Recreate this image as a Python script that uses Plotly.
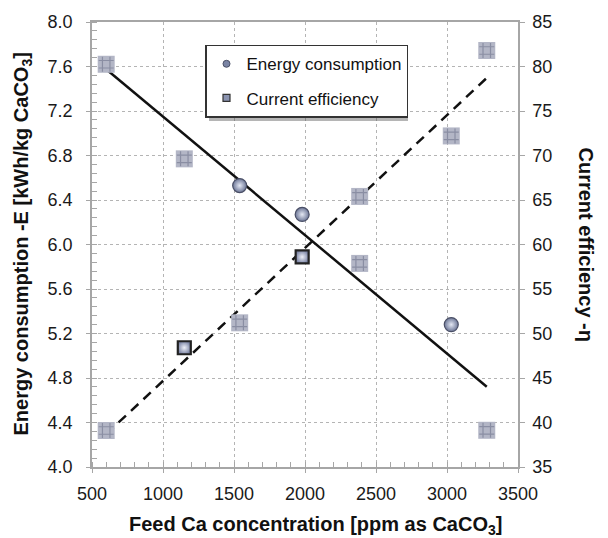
import numpy as np
import plotly.graph_objects as go

# ---------------- data ----------------
feed_ppm = [600, 1150, 1540, 1980, 2385, 3030, 3280]
energy_kwh = [7.62, 6.77, 6.53, 6.27, 5.83, 5.28, 4.33]
current_eff = [39.1, 48.4, 51.2, 58.6, 65.4, 72.2, 81.8]

# which points appear as plain markers vs. textured squares in the original
energy_plain_idx = [2, 3, 5]
energy_textured_idx = [0, 1, 4, 6]
eff_plain_idx = [1, 3]
eff_textured_idx = [0, 2, 4, 5, 6]

x_ticks = [500, 1000, 1500, 2000, 2500, 3000, 3500]
left_ticks = [4.0, 4.4, 4.8, 5.2, 5.6, 6.0, 6.4, 6.8, 7.2, 7.6, 8.0]
right_ticks = [35, 40, 45, 50, 55, 60, 65, 70, 75, 80, 85]

FONT = "Liberation Sans, Arial, Helvetica, sans-serif"
W, H = 608, 538
ML, MR, MT, MB = 92, 90, 17, 71
PW, PH = W - ML - MR, H - MT - MB


def pick(seq, idx):
    return [seq[i] for i in idx]


fig = go.Figure()

# trend lines (least squares fits of the data)
xs = np.array(feed_ppm, dtype=float)
pe = np.polyfit(xs, np.array(energy_kwh), 1)
pc = np.polyfit(xs, np.array(current_eff), 1)
xl = [xs.min(), xs.max()]
fig.add_trace(go.Scatter(x=xl, y=list(np.polyval(pe, xl)), mode="lines",
                         line=dict(color="#111111", width=2.5),
                         showlegend=False, hoverinfo="skip"))
fig.add_trace(go.Scatter(x=xl, y=list(np.polyval(pc, xl)), mode="lines",
                         line=dict(color="#111111", width=2.5, dash="10px,7px"),
                         yaxis="y2", showlegend=False, hoverinfo="skip"))

# textured squares
tex_marker = dict(symbol="square", size=17, color="#b3b6c6", line=dict(width=0))
hash_marker = dict(symbol="hash", size=15, color="#8a8ea3",
                   line=dict(color="#8a8ea3", width=1.2))
for xv, yv, ax in [(pick(feed_ppm, energy_textured_idx), pick(energy_kwh, energy_textured_idx), "y"),
                   (pick(feed_ppm, eff_textured_idx), pick(current_eff, eff_textured_idx), "y2")]:
    fig.add_trace(go.Scatter(x=xv, y=yv, mode="markers", marker=tex_marker,
                             yaxis=ax, showlegend=False))
    fig.add_trace(go.Scatter(x=xv, y=yv, mode="markers", marker=hash_marker,
                             yaxis=ax, showlegend=False, hoverinfo="skip"))

# plain markers
fig.add_trace(go.Scatter(
    x=pick(feed_ppm, energy_plain_idx), y=pick(energy_kwh, energy_plain_idx),
    mode="markers", showlegend=False, name="Energy consumption",
    marker=dict(symbol="circle", size=14, color="#6c7696",
                gradient=dict(type="radial", color="#e4e8f4"),
                line=dict(color="#4a4f66", width=1.2))))
fig.add_trace(go.Scatter(
    x=pick(feed_ppm, eff_plain_idx), y=pick(current_eff, eff_plain_idx),
    mode="markers", showlegend=False, name="Current efficiency", yaxis="y2",
    marker=dict(symbol="square", size=13, color="#7d86a6",
                gradient=dict(type="radial", color="#eef0f8"),
                line=dict(color="#222222", width=2.2))))

# legend entries
fig.add_trace(go.Scatter(
    x=[None], y=[None], mode="markers", name="Energy consumption",
    legendgroup="a",
    marker=dict(symbol="circle", size=7, color="#7a84a4",
                line=dict(color="#4a4f66", width=1))))
fig.add_trace(go.Scatter(
    x=[None], y=[None], mode="markers", name="Current efficiency",
    legendgroup="b",
    marker=dict(symbol="square", size=7, color="#8a93b0",
                line=dict(color="#333333", width=1.2))))

grid = dict(showgrid=True, gridcolor="#b4b4b4", griddash="dot", gridwidth=1)
axline = dict(showline=True, linecolor="#a6a6a6", linewidth=1.5)
tickf = dict(family=FONT, size=18, color="#1a1a1a")

fig.update_layout(
    width=W, height=H,
    margin=dict(l=ML, r=MR, t=MT, b=MB, pad=0),
    paper_bgcolor="white", plot_bgcolor="white",
    font=dict(family=FONT, color="#1a1a1a"),
    xaxis=dict(range=[500, 3500], tickvals=x_ticks,
               ticks="outside", ticklen=4, tickcolor="#a6a6a6",
               minor=dict(ticks="inside", dtick=100, ticklen=5, tickcolor="#a6a6a6"),
               tickfont=tickf, ticklabelstandoff=6, mirror=True,
               zeroline=False, **grid, **axline),
    yaxis=dict(range=[4.0, 8.0], tickvals=left_ticks, tickformat=".1f",
               ticks="outside", ticklen=4, tickcolor="#a6a6a6",
               minor=dict(ticks="inside", dtick=0.08, ticklen=5, tickcolor="#a6a6a6"),
               tickfont=tickf, ticklabelstandoff=10,
               zeroline=False, **grid, **axline),
    yaxis2=dict(range=[35, 85], tickvals=right_ticks, ticksuffix="%",
                overlaying="y", side="right",
                ticks="outside", ticklen=5, tickcolor="#a6a6a6",
                tickfont=tickf, ticklabelstandoff=4,
                showgrid=False, zeroline=False, **axline),
    legend=dict(x=(205 - ML) / PW, y=(H - MB - 40) / PH,
                xanchor="left", yanchor="top",
                bgcolor="white", bordercolor="#333333", borderwidth=1.5,
                font=dict(family=FONT, size=17, color="#111111"),
                tracegroupgap=9, traceorder="grouped"),
    showlegend=True,
)

# legend shadow
fig.add_shape(type="rect", xref="paper", yref="paper", layer="above",
              x0=(209 - ML) / PW, x1=(408 - ML) / PW,
              y0=(H - MB - 117) / PH, y1=(H - MB - 48) / PH,
              fillcolor="rgba(90,90,90,0.45)", line=dict(width=0))

title_font = dict(family=FONT, size=20, color="#111111")
fig.add_annotation(xref="paper", yref="paper", x=0, y=0.5, xshift=22 - ML,
                   text="<b>Energy consumption -E [kWh/kg CaCO<sub>3</sub>]</b>",
                   textangle=-90, showarrow=False, font=title_font,
                   xanchor="center", yanchor="middle")
fig.add_annotation(xref="paper", yref="paper", x=1, y=0.5, xshift=586 - (W - MR),
                   text="<b>Current efficiency -η</b>",
                   textangle=90, showarrow=False, font=title_font,
                   xanchor="center", yanchor="middle")
fig.add_annotation(xref="paper", yref="paper", x=0.5, y=0, yshift=-(525 - (H - MB)),
                   xshift=10,
                   text="<b>Feed Ca concentration [ppm as CaCO<sub>3</sub>]</b>",
                   showarrow=False, font=title_font,
                   xanchor="center", yanchor="middle")

fig.write_html("out.html")
